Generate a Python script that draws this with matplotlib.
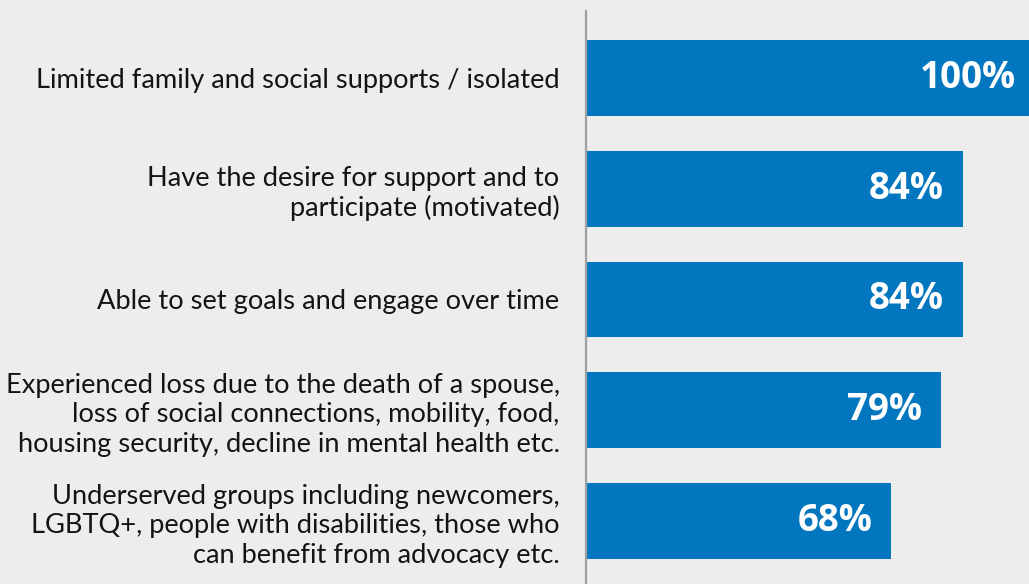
import matplotlib
matplotlib.use("Agg")
import matplotlib.pyplot as plt

categories = [
    "Limited family and social supports / isolated",
    "Have the desire for support and to\nparticipate (motivated)",
    "Able to set goals and engage over time",
    "Experienced loss due to the death of a spouse,\nloss of social connections, mobility, food,\nhousing security, decline in mental health etc.",
    "Underserved groups including newcomers,\nLGBTQ+, people with disabilities, those who\ncan benefit from advocacy etc.",
]
values = [100, 84, 84, 79, 68]
value_labels = ["100%", "84%", "84%", "79%", "68%"]

bg = "#ededed"
bar_color = "#0276bf"

fig = plt.figure(figsize=(10.29, 5.84), dpi=100, facecolor=bg)
ax = fig.add_axes([586/1029, 0.0, 1 - 586/1029, 1 - 11/584])
ax.set_facecolor(bg)

ypos = list(range(len(categories)))
ax.barh(ypos, values, height=0.686, color=bar_color, zorder=2, clip_on=False)
ax.set_xlim(0, 98.7)
ax.set_ylim(4.569, -0.605)

for y, v, lab in zip(ypos, values, value_labels):
    ax.annotate(lab, xy=(v, y), xytext=(-19, 0), textcoords="offset pixels",
                ha="right", va="center", color="white", fontsize=26.5,
                fontweight="bold", family="Open Sans", zorder=3,
                annotation_clip=False)

ax.set_yticks(ypos)
ax.set_yticklabels(categories, fontsize=19.6, family="Lato", color="#141414",
                   linespacing=1.22)
ax.tick_params(axis="y", length=0, pad=19)
ax.set_xticks([])
for s in ["top", "right", "bottom"]:
    ax.spines[s].set_visible(False)
ax.spines["left"].set_color("#a0a0a0")
ax.spines["left"].set_linewidth(1.6)

fig.savefig("out.png", dpi=100, facecolor=bg)
